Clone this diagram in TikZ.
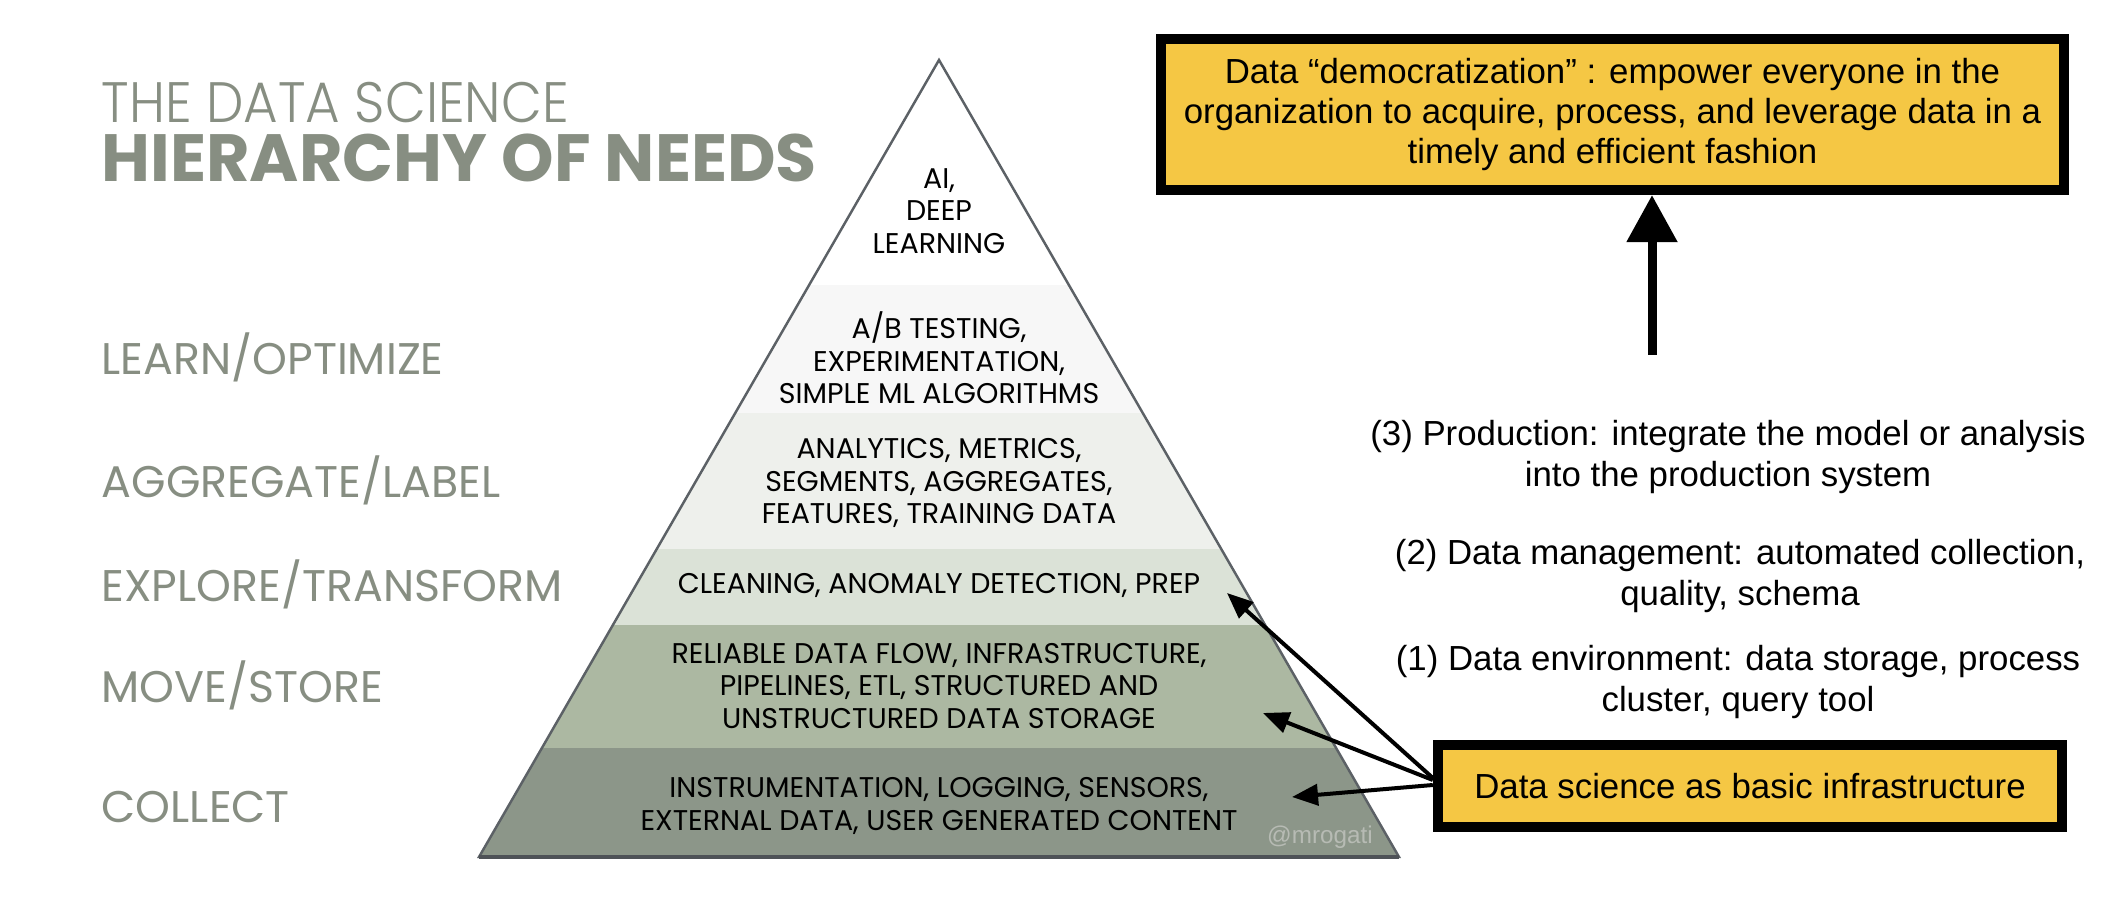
\documentclass[tikz,border=0pt]{standalone}
\usepackage{fontspec}
\setmainfont{Liberation Sans}
\newfontfamily\futura{Poppins}
\newfontfamily\futuralight{Poppins Light}[FakeStretch=0.93]
\usetikzlibrary{arrows.meta}
\definecolor{sage}{HTML}{878E82}
\definecolor{bandab}{HTML}{F7F7F7}
\definecolor{bandagg}{HTML}{EEF0EC}
\definecolor{bandclean}{HTML}{DBE2D7}
\definecolor{bandmove}{HTML}{ACB8A2}
\definecolor{bandcollect}{HTML}{8C9689}
\definecolor{edge}{HTML}{5C6166}
\definecolor{note}{HTML}{F5C744}
\begin{document}
\begin{tikzpicture}[x=0.01cm, y=-0.01cm,
    layer/.style={font=\futura\fontsize{8.1}{9.2}\selectfont, align=center, inner sep=0pt},
    level/.style={font=\futura\fontsize{12.6}{14}\selectfont, text=sage, anchor=base west, inner sep=0pt},
    notebox/.style={draw=black, line width=2.85pt, fill=note, align=center, font=\fontsize{9.9}{11.4}\selectfont},
    stage/.style={align=center, font=\fontsize{9.9}{11.7}\selectfont},
    thin arrow/.style={-{Triangle[length=7.4pt,width=6pt]}, line width=1.14pt},
    thick arrow/.style={-{Triangle[length=13.4pt,width=13.9pt]}, line width=2.56pt}]
\useasboundingbox (0,0) rectangle (2118,916);

% the pyramid and its bands
\coordinate (apex) at (939,60);
\coordinate (bl) at (479,857);
\coordinate (br) at (1399,857);
\begin{scope}
    \clip (apex) -- (bl) -- (br) -- cycle;
    \fill[bandab] (0,285) rectangle (2118,413);
    \fill[bandagg] (0,413) rectangle (2118,549);
    \fill[bandclean] (0,549) rectangle (2118,625);
    \fill[bandmove] (0,625) rectangle (2118,748);
    \fill[bandcollect] (0,748) rectangle (2118,857);
\end{scope}
\draw[edge, line width=0.7pt] (apex) -- (bl) -- (br) -- cycle;
\draw[edge!85!black, line width=1pt] (bl) -- (br);

\node[layer] (ai) at (939,211) {AI,\\DEEP\\LEARNING};
\node[layer] (ab) at (939,358) {A/B TESTING,\\EXPERIMENTATION,\\SIMPLE ML ALGORITHMS};
\node[layer] (agg) at (939,483) {ANALYTICS, METRICS,\\SEGMENTS, AGGREGATES,\\FEATURES, TRAINING DATA};
\node[layer] (clean) at (939,585) {CLEANING, ANOMALY DETECTION, PREP};
\node[layer] (move) at (939,686) {RELIABLE DATA FLOW, INFRASTRUCTURE,\\PIPELINES, ETL, STRUCTURED AND\\UNSTRUCTURED DATA STORAGE};
\node[layer] (collect) at (939,806) {INSTRUMENTATION, LOGGING, SENSORS,\\EXTERNAL DATA, USER GENERATED CONTENT};
\node[text=sage!60!white, font=\fontsize{6.9}{8}\selectfont] (credit) at (1320,837) {@mrogati};

% title and level names
\node[anchor=base west, inner sep=0pt, text=sage, font=\futuralight\fontsize{16.2}{18}\selectfont] (title) at (101,123) {THE DATA SCIENCE};
\node[anchor=base west, inner sep=0pt, text=sage, font=\futura\bfseries\fontsize{19}{22}\selectfont] (subtitle) at (101,182) {HIERARCHY OF NEEDS};
\node[level] (learn) at (101,375) {LEARN/OPTIMIZE};
\node[level] (aggregate) at (101,498) {AGGREGATE/LABEL};
\node[level] (explore) at (101,602) {EXPLORE/TRANSFORM};
\node[level] (store) at (101,703) {MOVE/STORE};
\node[level] (gather) at (101,823) {COLLECT};

% right side
\node[notebox, minimum width=9.03cm, minimum height=1.51cm] (goal) at (1612.5,114.5) {Data “democratization” : empower everyone in the\\organization to acquire, process, and leverage data in a\\timely and efficient fashion};
\node[notebox, minimum width=6.24cm, minimum height=0.82cm] (infra) at (1750,786) {Data science as basic infrastructure};
\node[stage] (prod) at (1728,457) {(3) Production: integrate the model or analysis\\into the production system};
\node[stage] (mgmt) at (1740,576) {(2) Data management: automated collection,\\quality, schema};
\node[stage] (env) at (1738,682) {(1) Data environment: data storage, process\\cluster, query tool};

\coordinate (upfoot) at (1652,355);
\draw[thick arrow] (upfoot) -- (upfoot |- goal.south);

\coordinate (tipclean) at (1227,593);
\coordinate (tipmove) at (1263,713);
\coordinate (tipcollect) at (1292,797);
\draw[thin arrow] ([yshift=0.08cm]infra.west) -- (tipclean);
\draw[thin arrow] ([yshift=0.06cm]infra.west) -- (tipmove);
\draw[thin arrow] ([yshift=0.01cm]infra.west) -- (tipcollect);
\end{tikzpicture}
\end{document}
